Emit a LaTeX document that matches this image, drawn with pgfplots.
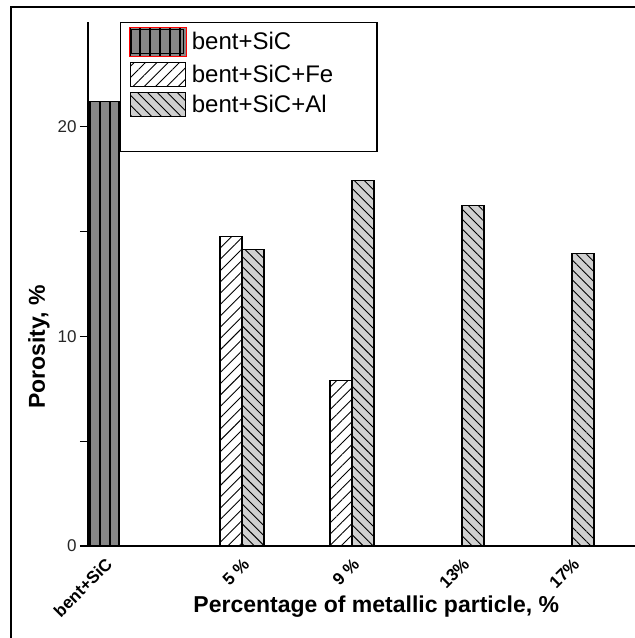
\documentclass[border=0pt]{standalone}
\usepackage{pgfplots}
\pgfplotsset{compat=1.18}
\usetikzlibrary{patterns.meta}
\usepackage{fontspec}
\setmainfont{Liberation Sans}
\definecolor{sicgray}{RGB}{135,135,135}
\definecolor{algray}{RGB}{208,208,208}
\pgfplotsset{
  rectlegend/.style={legend image code/.code={\draw[##1] (0pt,-12pt) rectangle (55pt,12pt);}},
  rectlegendred/.style={legend image code/.code={%
    \draw[red, line width=1.3pt] (-1pt,-14.5pt) rectangle (56pt,14.5pt);
    \draw[##1] (1.5pt,-12pt) rectangle (53.5pt,12pt);}},
}
\begin{document}
\begin{tikzpicture}
\useasboundingbox (0pt,0pt) rectangle (635pt,638pt);
\draw[line width=2.3pt] (11pt,0pt) -- (11pt,631.3pt) -- (635pt,631.3pt);
\begin{axis}[
  at={(88pt,92pt)}, anchor=south west,
  scale only axis, width=547pt, height=524pt,
  xmin=-0.6, xmax=19.29, ymin=0, ymax=25,
  axis x line=bottom, axis y line=left,
  axis line style={-, line width=1.3pt},
  ytick={0,10,20}, minor ytick={5,15},
  tick align=outside, major tick length=8pt, minor tick length=8pt,
  tick style={line width=1.3pt, black},
  xtick={0,5,9,13,17},
  xticklabels={bent+SiC,5 \%,9 \%,13\%,17\%},
  xtick style={draw=none},
  x tick label style={rotate=45, anchor=north east, font=\bfseries\fontsize{17}{17}\selectfont, inner sep=2pt},
  y tick label style={font=\fontsize{17}{17}\selectfont, color=black!85},
  /pgf/number format/assume math mode=true,
  xlabel={Percentage of metallic particle, \%},
  ylabel={Porosity, \%},
  label style={font=\bfseries\fontsize{23}{23}\selectfont},
  xlabel style={at={([yshift=-61pt]axis description cs:0.527,0)}, anchor=center},
  ylabel style={at={([xshift=-49pt]axis description cs:0,0.38)}, anchor=center},
  legend style={at={(axis description cs:0.0585,1)}, anchor=north west,
    draw=black, line width=1.2pt, font=\fontsize{24}{24}\selectfont,
    inner xsep=8pt, inner ysep=4pt, row sep=5pt, column sep=3pt},
  legend cell align=left,
]
\addplot[ybar, bar width=29pt, bar shift=0pt, draw=black, line width=1.2pt,
  preaction={fill=sicgray}, preaction={pattern={Lines[angle=90,distance=10pt,line width=1.8pt]}}, forget plot]
  coordinates {(0,21.2)};
\addplot[ybar, bar width=22pt, bar shift=-11pt, draw=black, line width=1.2pt,
  preaction={fill=white}, preaction={pattern={Lines[angle=45,distance=8pt,line width=0.9pt]}}, forget plot]
  coordinates {(5,14.76) (9,7.89)};
\addplot[ybar, bar width=22pt, bar shift=11pt, draw=black, line width=1.2pt,
  preaction={fill=algray}, preaction={pattern={Lines[angle=-45,distance=7pt,line width=0.9pt]}}, forget plot]
  coordinates {(5,14.13) (9,17.44) (13,16.23) (17,13.97)};
\addlegendimage{rectlegendred, draw=black, line width=1.2pt, preaction={fill=sicgray}, preaction={pattern={Lines[angle=90,distance=10pt,line width=1.8pt]}}}
\addlegendentry{\makebox[175pt][l]{bent+SiC}}
\addlegendimage{rectlegend, draw=black, line width=1.2pt, preaction={fill=white}, preaction={pattern={Lines[angle=45,distance=8pt,line width=0.9pt]}}}
\addlegendentry{\makebox[175pt][l]{bent+SiC+Fe}}
\addlegendimage{rectlegend, draw=black, line width=1.2pt, preaction={fill=algray}, preaction={pattern={Lines[angle=-45,distance=7pt,line width=0.9pt]}}}
\addlegendentry{\makebox[175pt][l]{bent+SiC+Al}}
\addlegendimage{empty legend}
\addlegendentry{\rule{0pt}{20pt}}
\end{axis}
\end{tikzpicture}
\end{document}
